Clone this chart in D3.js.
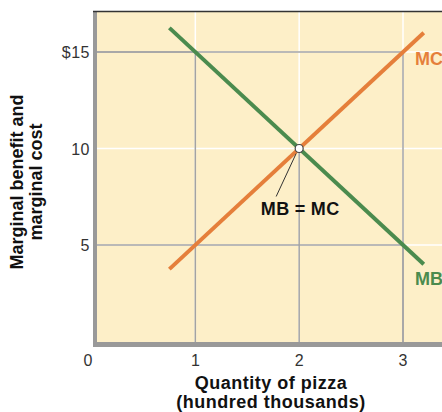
<!DOCTYPE html>
<html>
<head>
<meta charset="utf-8">
<script src="https://cdn.jsdelivr.net/npm/d3@7"></script>
<style>
  html, body { margin: 0; padding: 0; background: #ffffff; }
  svg { display: block; }
  text { font-family: "Liberation Sans", Arial, Helvetica, sans-serif; }
</style>
</head>
<body>
<svg id="chart" width="442" height="412"></svg>
<script>
// ---- Data ----
const quantities = [0.75, 3.2];          // hundred thousands
const mbValues = [16.25, 4.0];           // marginal benefit ($)
const mcValues = [3.75, 16.0];           // marginal cost ($)
const xTicks = [0, 1, 2, 3];
const yTicks = [5, 10, 15];
const yTickLabels = ["5", "10", "$15"];
const equilibrium = { q: 2, v: 10 };
const dropPoints = [ { q: 1, v: 15 }, { q: 3, v: 15 }, { q: 3, v: 5 }, { q: 2, v: 10 } ];

// ---- Layout ----
const svg = d3.select("#chart");
const x = d3.scaleLinear().domain([0, 3]).range([91.5, 403]);
const y = d3.scaleLinear().domain([0, 15]).range([341.5, 52]);
const plotLeft = 97, plotRight = 442, plotTop = 12, plotBottom = 342;

const green = "#4b8b4e", orange = "#e57f3b";

// background
svg.append("rect").attr("x", plotLeft).attr("y", plotTop)
  .attr("width", plotRight - plotLeft).attr("height", plotBottom - plotTop)
  .attr("fill", "#fdefc8");

// white grid
const g = svg.append("g");
xTicks.filter(d => d > 0).forEach(d => {
  g.append("line").attr("x1", x(d)).attr("x2", x(d)).attr("y1", plotTop).attr("y2", plotBottom)
    .attr("stroke", "#ffffff").attr("stroke-width", 1.5);
});
yTicks.forEach(d => {
  g.append("line").attr("x1", plotLeft).attr("x2", plotRight).attr("y1", y(d)).attr("y2", y(d))
    .attr("stroke", "#ffffff").attr("stroke-width", 1.5);
});

// gray drop lines
const grayC = "#a3a3a3";
dropPoints.forEach(p => {
  g.append("line").attr("x1", x(p.q)).attr("x2", x(p.q)).attr("y1", y(p.v)).attr("y2", plotBottom)
    .attr("stroke", grayC).attr("stroke-width", 1.5);
  if (p.v !== 10) {
    g.append("line").attr("x1", plotLeft).attr("x2", x(p.q)).attr("y1", y(p.v)).attr("y2", y(p.v))
      .attr("stroke", grayC).attr("stroke-width", 1.5);
  }
});

// borders
svg.append("rect").attr("x", 93).attr("y", 11).attr("width", 4).attr("height", plotBottom - 11 + 5)
  .attr("fill", "#999999");
svg.append("rect").attr("x", 93).attr("y", plotBottom).attr("width", plotRight - 93).attr("height", 5)
  .attr("fill", "#999999");
svg.append("line").attr("x1", 93).attr("x2", plotRight).attr("y1", 11.5).attr("y2", 11.5)
  .attr("stroke", "#333333").attr("stroke-width", 1.5);

// curves
const line = d3.line().x(d => x(d[0])).y(d => y(d[1]));
const mbData = quantities.map((q, i) => [q, mbValues[i]]);
const mcData = quantities.map((q, i) => [q, mcValues[i]]);
svg.append("path").attr("d", line(mbData)).attr("fill", "none")
  .attr("stroke", green).attr("stroke-width", 4);
svg.append("path").attr("d", line(mcData)).attr("fill", "none")
  .attr("stroke", orange).attr("stroke-width", 4);

// equilibrium leader + dot
svg.append("line").attr("x1", x(equilibrium.q) - 3).attr("y1", y(equilibrium.v) + 5)
  .attr("x2", x(equilibrium.q) - 23).attr("y2", y(equilibrium.v) + 48)
  .attr("stroke", "#333333").attr("stroke-width", 1);
svg.append("circle").attr("cx", x(equilibrium.q)).attr("cy", y(equilibrium.v)).attr("r", 4)
  .attr("fill", "#ffffff").attr("stroke", "#444444").attr("stroke-width", 1.2);

// labels
svg.append("text").attr("x", x(equilibrium.q) + 1).attr("y", y(equilibrium.v) + 66)
  .attr("text-anchor", "middle").attr("font-size", 18).attr("font-weight", "bold")
  .attr("letter-spacing", 0.3).attr("fill", "#111111").text("MB = MC");
svg.append("text").attr("x", 415).attr("y", 65).attr("font-size", 18).attr("font-weight", "bold")
  .attr("fill", orange).text("MC");
svg.append("text").attr("x", 415).attr("y", 285).attr("font-size", 18).attr("font-weight", "bold")
  .attr("fill", green).text("MB");

// tick labels
xTicks.forEach(d => {
  svg.append("text").attr("x", d === 0 ? 88 : x(d)).attr("y", 366)
    .attr("text-anchor", "middle").attr("font-size", 16).attr("fill", "#333333").text(d);
});
yTicks.forEach((d, i) => {
  svg.append("text").attr("x", 90).attr("y", y(d) + 6)
    .attr("text-anchor", "end").attr("font-size", 16).attr("letter-spacing", 0.5)
    .attr("fill", "#333333").text(yTickLabels[i]);
});

// axis titles
svg.append("text").attr("x", 271).attr("y", 389).attr("text-anchor", "middle")
  .attr("font-size", 18).attr("font-weight", "bold").attr("letter-spacing", 0.5)
  .attr("fill", "#111111").text("Quantity of pizza");
svg.append("text").attr("x", 271).attr("y", 408).attr("text-anchor", "middle")
  .attr("font-size", 18).attr("font-weight", "bold").attr("letter-spacing", 0.5)
  .attr("fill", "#111111").text("(hundred thousands)");

const yt = svg.append("text").attr("transform", "translate(23,182) rotate(-90)")
  .attr("text-anchor", "middle").attr("font-size", 18).attr("font-weight", "bold").attr("fill", "#111111");
yt.append("tspan").attr("x", 0).attr("y", 0).text("Marginal benefit and");
yt.append("tspan").attr("x", 0).attr("y", 19).text("marginal cost");
</script>
</body>
</html>
